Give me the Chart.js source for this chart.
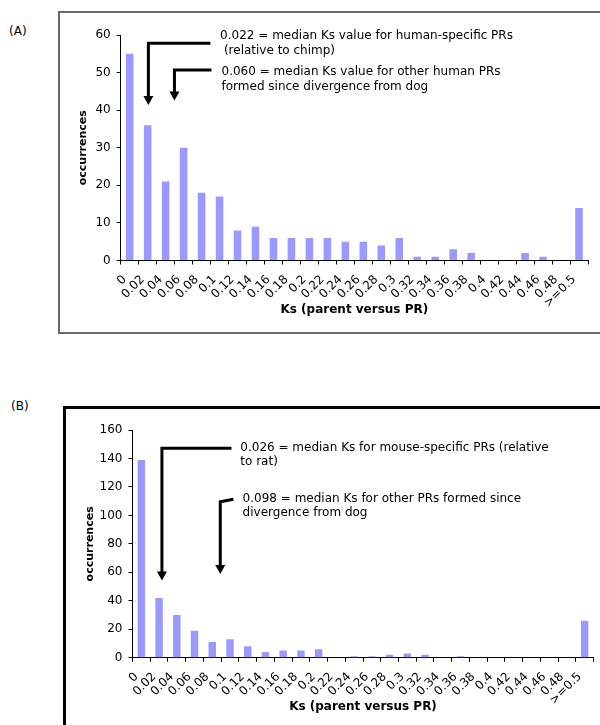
<!DOCTYPE html>
<html>
<head>
<meta charset="utf-8">
<script src="https://cdn.jsdelivr.net/npm/chart.js@4.4.1/dist/chart.umd.min.js"></script>
<style>
  html, body { margin: 0; padding: 0; background: #fff; }
  body { width: 600px; height: 725px; position: relative; overflow: hidden; font-family: "DejaVu Sans", sans-serif; }
  .box { position: absolute; box-sizing: border-box; }
  #boxA { left: 58px; top: 11px; width: 620px; height: 323px; border: 2px solid #6a6a6a; }
  #boxB { left: 63px; top: 406px; width: 620px; height: 400px; border: 3px solid #000; }
  .plabel { position: absolute; font: 12px "DejaVu Sans", sans-serif; color: #000; line-height: 14px; }
  #labA { left: 9px; top: 24px; }
  #labB { left: 11px; top: 399px; }
  .wrap { position: absolute; left: 0; }
  #wA { top: 0; width: 600px; height: 340px; }
  #wB { top: 380px; width: 600px; height: 345px; }
</style>
</head>
<body>
<div class="box" id="boxA"></div>
<div class="box" id="boxB"></div>
<div class="plabel" id="labA">(A)</div>
<div class="plabel" id="labB">(B)</div>
<div class="wrap" id="wA"><canvas id="cA" width="600" height="340"></canvas></div>
<div class="wrap" id="wB"><canvas id="cB" width="600" height="345"></canvas></div>
<script>
// ---- data ----
const categories = ['0','0.02','0.04','0.06','0.08','0.1','0.12','0.14','0.16','0.18','0.2','0.22','0.24','0.26','0.28','0.3','0.32','0.34','0.36','0.38','0.4','0.42','0.44','0.46','0.48','>=0.5'];
const valuesA = [55,36,21,30,18,17,8,9,6,6,6,6,5,5,4,6,1,1,3,2,0,0,2,1,0,14];
const valuesB = [139,42,30,19,11,13,8,4,5,5,6,0,1,1,2,3,2,0,1,0,0,0,0,0,0,26];
const yTicksA = [0,10,20,30,40,50,60];
const yTicksB = [0,20,40,60,80,100,120,140,160];
const xTitle = 'Ks (parent versus PR)';
const yTitle = 'occurrences';

// annotations (x in category index units, y in data units)
const arrowsA = [
  [[4.49,57.8],[1.04,57.8],[1.04,41.4]],
  [[4.55,50.7],[2.49,50.7],[2.49,42.6]]
];
const textsA = [
  [5.03,59.7,'0.022 = median Ks value for human-specific PRs'],
  [5.03,55.9,' (relative to chimp)'],
  [5.11,50.1,'0.060 = median Ks value for other human PRs'],
  [5.11,46.3,'formed since divergence from dog']
];
const arrowsB = [
  [[5.08,147.1],[1.16,147.1],[1.16,54.3]],
  [[5.19,111.3],[4.45,109.6],[4.45,58.8]]
];
const textsB = [
  [5.58,147.1,'0.026 = median Ks for mouse-specific PRs (relative'],
  [5.58,137.7,'to rat)'],
  [5.71,111.3,'0.098 = median Ks for other PRs formed since'],
  [5.71,101.5,'divergence from dog']
];

const FONT = '"DejaVu Sans", sans-serif';

const annotPlugin = {
  id: 'annot',
  afterDraw(chart, args, opts) {
    const ctx = chart.ctx, xs = chart.scales.x, ys = chart.scales.y;
    ctx.save();
    ctx.strokeStyle = '#000'; ctx.fillStyle = '#000';
    ctx.lineWidth = 3; ctx.lineJoin = 'miter'; ctx.lineCap = 'butt';
    (opts.arrows || []).forEach(path => {
      const pts = path.map(p => [xs.getPixelForValue(p[0]), ys.getPixelForValue(p[1])]);
      const tip = pts[pts.length - 1];
      const headL = 9, headW = 5;
      ctx.beginPath();
      ctx.moveTo(pts[0][0], pts[0][1]);
      for (let i = 1; i < pts.length - 1; i++) ctx.lineTo(pts[i][0], pts[i][1]);
      ctx.lineTo(tip[0], tip[1] - headL + 1);
      ctx.stroke();
      ctx.beginPath();
      ctx.moveTo(tip[0] - headW, tip[1] - headL);
      ctx.lineTo(tip[0] + headW, tip[1] - headL);
      ctx.lineTo(tip[0], tip[1]);
      ctx.closePath();
      ctx.fill();
    });
    ctx.font = '12px ' + FONT;
    ctx.textAlign = 'left'; ctx.textBaseline = 'middle';
    (opts.texts || []).forEach(t => {
      ctx.fillText(t[2], xs.getPixelForValue(t[0]), ys.getPixelForValue(t[1]));
    });
    ctx.restore();
  }
};

function makeChart(id, values, yTicks, L, arrows, texts) {
  return new Chart(document.getElementById(id), {
    type: 'bar',
    data: {
      labels: categories,
      datasets: [{ data: values, backgroundColor: '#9999ff', borderWidth: 0,
                   categoryPercentage: 1.0, barPercentage: 0.42 }]
    },
    options: {
      responsive: false, animation: false, devicePixelRatio: 1,
      layout: { padding: { left: L.pl, right: L.pr, top: L.pt, bottom: L.pb } },
      plugins: { legend: { display: false }, tooltip: { enabled: false },
                 annot: { arrows: arrows, texts: texts } },
      scales: {
        x: {
          type: 'category', offset: true,
          grid: { display: true, offset: true, drawOnChartArea: false, drawTicks: true,
                  tickLength: 4, color: '#000', lineWidth: 1 },
          border: { display: true, color: '#000', width: 1 },
          ticks: { autoSkip: false, maxRotation: 45, minRotation: 45, padding: 8, labelOffset: -5,
                   color: '#000', font: { family: FONT, size: 12 } },
          title: { display: true, text: xTitle, color: '#000', padding: 0,
                   font: { family: FONT, size: 12, weight: 'bold' } },
          afterFit(s) { s.height = L.xh; s.paddingLeft = 0; s.paddingRight = 0; }
        },
        y: {
          min: yTicks[0], max: yTicks[yTicks.length - 1],
          afterBuildTicks(s) { s.ticks = yTicks.map(v => ({ value: v })); },
          grid: { display: true, drawOnChartArea: false, drawTicks: true,
                  tickLength: 4, color: '#000', lineWidth: 1 },
          border: { display: true, color: '#000', width: 1 },
          ticks: { padding: 6, color: '#000', font: { family: FONT, size: 12 } },
          title: { display: true, text: yTitle, color: '#000', padding: 0,
                   font: { family: FONT, size: 11, weight: 'bold' } },
          afterFit(s) { s.width = L.yw; s.paddingTop = 0; s.paddingBottom = 0; }
        }
      }
    },
    plugins: [annotPlugin]
  });
}

makeChart('cA', valuesA, yTicksA, { pl: 76.8, pr: 12, pt: 35, pb: 22.7, yw: 43.9, xh: 56.8 }, arrowsA, textsA);
makeChart('cB', valuesB, yTicksB, { pl: 83.4, pr: 6.5, pt: 50, pb: 11.1, yw: 49.1, xh: 56.2 }, arrowsB, textsB);
</script>
</body>
</html>
